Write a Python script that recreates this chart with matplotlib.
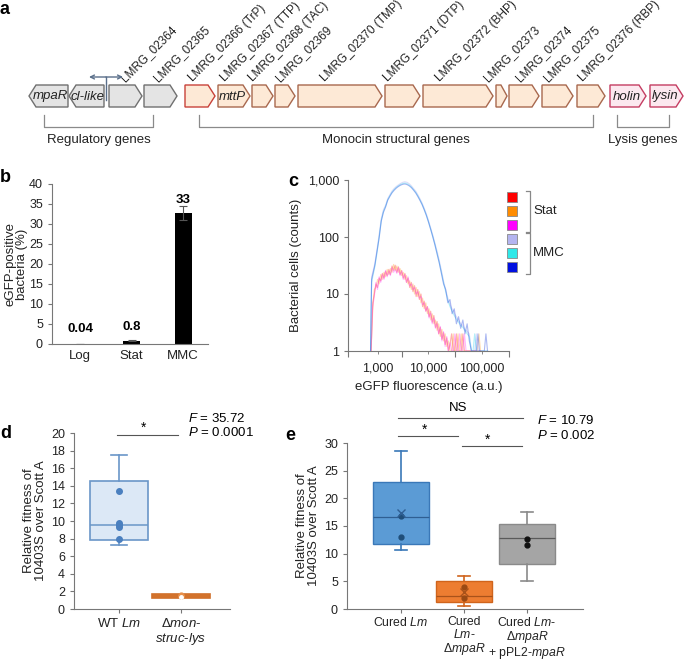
import numpy as np
import matplotlib
matplotlib.use("Agg")
import matplotlib.pyplot as plt
from matplotlib.patches import Polygon, Rectangle

plt.rcParams['font.family'] = ['Liberation Sans', 'DejaVu Sans']
plt.rcParams['mathtext.fontset'] = 'custom'
plt.rcParams['mathtext.rm'] = 'Liberation Sans'
plt.rcParams['mathtext.it'] = 'Liberation Sans:italic'
plt.rcParams['font.size'] = 9
plt.rcParams['axes.edgecolor'] = '#777777'
plt.rcParams['xtick.color'] = '#777777'
plt.rcParams['ytick.color'] = '#777777'
plt.rcParams['xtick.labelcolor'] = '#222222'
plt.rcParams['ytick.labelcolor'] = '#222222'
plt.rcParams['xtick.labelsize'] = 9
plt.rcParams['ytick.labelsize'] = 9

W, H = 685, 660

# ---------------- panel a: gene cluster
gene_start = [29, 69, 109, 144, 185, 218, 252, 275, 298, 385, 423, 496, 509, 542, 577, 610, 650]
gene_end = [68, 104, 142, 177, 215, 250, 273, 295, 382, 420, 493, 507, 539, 573, 605, 646, 683]
gene_strand = [-1, -1, 1, 1, 1, 1, 1, 1, 1, 1, 1, 1, 1, 1, 1, 1, 1]
gene_group = ['reg', 'reg', 'reg', 'reg', 'first', 'str', 'str', 'str', 'str', 'str',
              'str', 'str', 'str', 'str', 'str', 'lys', 'lys']
gene_inner = ['mpaR', 'cl-like', '', '', '', 'mttP', '', '', '', '', '', '', '', '', '', 'holin', 'lysin']
gene_label = ['', '', 'LMRG_02364', 'LMRG_02365', 'LMRG_02366 (TrP)', 'LMRG_02367 (TTP)',
              'LMRG_02368 (TAC)', 'LMRG_02369', 'LMRG_02370 (TMP)', 'LMRG_02371 (DTP)',
              'LMRG_02372 (BHP)', 'LMRG_02373', 'LMRG_02374', 'LMRG_02375', 'LMRG_02376 (RBP)', '', '']
group_names = ['Regulatory genes', 'Monocin structural genes', 'Lysis genes']

# ---------------- panel b
conditions = ['Log', 'Stat', 'MMC']
egfp_pct = [0.04, 0.8, 32.7]
egfp_err = [0.02, 0.12, 1.7]
egfp_text = ['0.04', '0.8', '33']

# ---------------- panel c: flow histograms (log10 fluorescence, counts)
stat_logx = [2.93, 2.96, 2.99, 3.02, 3.05, 3.08, 3.11, 3.14, 3.17, 3.20, 3.23, 3.26, 3.29,
             3.32, 3.35, 3.38, 3.41, 3.44, 3.47, 3.50, 3.53, 3.56, 3.59, 3.62, 3.65, 3.68,
             3.71, 3.74, 3.77, 3.80, 3.83, 3.86, 3.89, 3.92, 3.95, 3.98, 4.01, 4.04, 4.07,
             4.10, 4.13, 4.16, 4.19, 4.22, 4.25, 4.28, 4.31, 4.34, 4.37, 4.40,
             4.43, 4.46, 4.49, 4.52, 4.55, 4.58, 4.61, 4.64, 4.67, 4.70, 4.73, 4.76, 4.79,
             4.82, 4.85, 4.88, 4.91, 4.94, 4.97]
stat_red = [1, 7, 10, 15, 13, 19, 17, 23, 19, 25, 21, 27, 22, 31, 26, 32, 24, 30, 22, 26,
            19, 23, 16, 19, 13, 16, 11, 14, 9, 12, 8, 10, 6, 7.5, 5, 6, 4, 5, 3.2, 4.2,
            2.6, 3.3, 2, 2.6, 1.6, 2.1, 1.3, 1.7, 1, 1.3,
            2, 1, 1, 2, 1, 1, 1, 2, 1, 1, 1, 1, 1, 1, 1, 1, 1, 1, 1]
stat_orange = [1, 5, 12, 13, 18, 15, 22, 18, 24, 20, 27, 22, 28, 24, 33, 26, 31, 24, 28, 21,
               24, 18, 21, 15, 17, 12, 15, 10, 13, 9, 11, 7, 8.5, 5.5, 7, 4.5, 5.5, 3.5, 4.5, 3,
               3.5, 2.3, 3, 1.8, 2.4, 1.5, 2, 1.2, 1.5, 1,
               1, 2, 1, 1, 2, 1, 2, 1, 1, 1, 1, 1, 1, 1, 1, 1, 1, 2, 1]
stat_magenta = [1, 6, 9, 16, 12, 20, 16, 22, 18, 26, 20, 25, 21, 29, 24, 27, 23, 29, 21, 25,
                18, 22, 16, 20, 14, 15, 12, 13, 10, 11, 8.5, 9, 6.5, 7, 5, 6, 3.8, 4.6, 3, 3.8,
                2.5, 3, 2, 2.7, 1.5, 2.2, 1.2, 1.8, 1, 1.4,
                1, 1, 2, 1, 1, 2, 1, 1, 2, 1, 1, 1, 1, 1, 1, 1, 1, 1, 1]

mmc_logx = [2.92, 2.94, 2.97, 3.00, 3.04, 3.08, 3.12, 3.16, 3.20, 3.24, 3.28, 3.32, 3.36,
            3.40, 3.44, 3.48, 3.52, 3.56, 3.60, 3.64, 3.68, 3.72, 3.76, 3.80, 3.84, 3.88,
            3.92, 3.96, 4.00, 4.04, 4.08, 4.12, 4.16, 4.20, 4.24, 4.28, 4.32, 4.36, 4.40,
            4.44, 4.48, 4.52, 4.56, 4.60, 4.64, 4.68, 4.72, 4.76, 4.80,
            4.83, 4.86, 4.89, 4.92, 4.95, 4.98, 5.01, 5.04, 5.07, 5.10]
mmc_lavender = [1, 20, 26, 34, 60, 110, 210, 300, 360, 470, 550, 640, 710, 770, 820, 870, 910,
                930, 910, 860, 790, 710, 640, 555, 470, 395, 320, 255, 195, 145, 108, 78, 56,
                39, 26, 17, 12, 8.5, 6.5, 5.5, 4.6, 4, 3.5, 3, 2.8, 2.4, 2.2, 2, 1,
                1, 1, 2, 1, 1, 1, 1, 1, 1, 1]
mmc_cyan = [1, 16, 22, 30, 52, 100, 195, 280, 345, 450, 530, 610, 680, 740, 790, 835, 865,
            880, 860, 815, 755, 680, 610, 530, 450, 378, 305, 242, 185, 138, 102, 74, 52,
            36, 24, 16, 11, 7.8, 6, 5, 4.2, 3.6, 3.2, 2.8, 2.6, 2.3, 2, 1.8, 1,
            1, 2, 1, 1, 1, 1, 1, 1, 1, 1]
mmc_blue = [1, 18, 24, 32, 56, 95, 190, 270, 335, 440, 515, 595, 660, 720, 770, 810, 840,
            850, 830, 790, 735, 665, 595, 515, 440, 370, 300, 238, 182, 136, 100, 72, 50,
            35, 23, 15, 12, 7, 8, 4.5, 5.5, 3, 4, 2.5, 3.5, 2, 3, 1.5, 1,
            1, 1, 1, 2, 1, 1, 1, 1, 2, 1]
legend_groups = ['Stat', 'MMC']

# ---------------- panel d
d_strains = ['WT $\\mathit{Lm}$', 'Δ$\\mathit{mon}$-\n$\\mathit{struc}$-$\\mathit{lys}$']
d_med = [9.6, 1.5]
d_q1 = [7.8, 1.28]
d_q3 = [14.5, 1.72]
d_lo = [7.3, 1.28]
d_hi = [17.5, 1.72]
d_wt_points = [13.4, 9.8, 9.5, 9.3, 8.0]
d_mut_points = [1.55, 1.5, 1.45]
d_mut_mean = 1.4

# ---------------- panel e
e_strains = ['Cured $\\mathit{Lm}$', 'Cured\n$\\mathit{Lm}$-\nΔ$\\mathit{mpaR}$',
             'Cured $\\mathit{Lm}$-\nΔ$\\mathit{mpaR}$\n+ pPL2-$\\mathit{mpaR}$']
e_med = [16.7, 2.4, 12.8]
e_q1 = [11.7, 1.2, 8.2]
e_q3 = [22.9, 5.0, 15.4]
e_lo = [10.6, 0.6, 5.0]
e_hi = [28.6, 6.0, 17.5]
e_points = [[16.8, 13.0], [3.9, 1.9], [12.7, 11.6]]
e_means = [17.3, 3.0]

fig = plt.figure(figsize=(W / 100, H / 100), dpi=100)


def px_axes(l, t, r, b):
    return fig.add_axes([l / W, 1 - b / H, (r - l) / W, (b - t) / H])


def clean(ax):
    ax.spines['top'].set_visible(False)
    ax.spines['right'].set_visible(False)
    ax.set_facecolor('none')


# ---- b
ax_b = px_axes(52, 184, 208, 344)
xb = np.arange(len(conditions))
ax_b.bar(xb, egfp_pct, width=0.33, color='black', yerr=egfp_err, capsize=3,
         error_kw=dict(ecolor='#555555', elinewidth=0.8, capthick=0.8))
for i, t in enumerate(egfp_text):
    ax_b.text(xb[i], [2.2, 2.8, 34.6][i], t, ha='center', va='bottom',
              fontweight='bold', fontsize=9.5)
ax_b.set_xlim(-0.544, 2.485)
ax_b.set_ylim(0, 40)
ax_b.set_yticks(range(0, 41, 5))
ax_b.set_xticks(xb)
ax_b.set_xticklabels(conditions, fontsize=9.5)
ax_b.tick_params(axis='x', length=0, pad=4)
ax_b.tick_params(axis='y', length=3)
ax_b.set_ylabel('eGFP-positive\nbacteria (%)', fontsize=9.5, color='#222222',
                labelpad=1, linespacing=0.95)
clean(ax_b)

# ---- c
ax_c = px_axes(348, 180, 509, 351)
sx = 10 ** np.array(stat_logx)
mx = 10 ** np.array(mmc_logx)
for ys, col in [(stat_red, '#ff2020'), (stat_orange, '#ff9a20'), (stat_magenta, '#ff30ff')]:
    ax_c.plot(sx, ys, color=col, lw=0.8, alpha=0.35)
for ys, col in [(mmc_lavender, '#a8a8f0'), (mmc_cyan, '#40d8f0'), (mmc_blue, '#3050e0')]:
    ax_c.plot(mx, ys, color=col, lw=0.8, alpha=0.4)
ax_c.set_xscale('log')
ax_c.set_yscale('log')
ax_c.set_xlim(10 ** 2.5, 10 ** 5.5)
ax_c.set_ylim(1, 1000)
ax_c.set_yticks([1, 10, 100, 1000])
ax_c.set_yticklabels(['1', '10', '100', '1,000'])
ax_c.yaxis.set_minor_locator(matplotlib.ticker.NullLocator())
ax_c.set_xticks([10 ** 2.5, 10 ** 3.5, 10 ** 4.5, 10 ** 5.5])
ax_c.set_xticklabels([])
ax_c.set_xticks([1.15e3, 1e4, 1e5], minor=True)
ax_c.set_xticklabels(['1,000', '10,000', '100,000'], minor=True)
ax_c.tick_params(axis='x', which='major', length=4)
ax_c.tick_params(axis='x', which='minor', length=2, labelsize=9, pad=6)
ax_c.tick_params(axis='y', length=3)
ax_c.set_xlabel('eGFP fluorescence (a.u.)', fontsize=9.5, color='#222222', labelpad=5)
ax_c.set_ylabel('Bacterial cells (counts)', fontsize=9.5, color='#222222')
clean(ax_c)

# ---- d
ax_d = px_axes(74, 433, 230, 609)
stats_d = [dict(med=d_med[i], q1=d_q1[i], q3=d_q3[i], whislo=d_lo[i], whishi=d_hi[i], fliers=[])
           for i in range(2)]
bp = ax_d.bxp(stats_d, positions=[0, 1], widths=0.92, patch_artist=True, showfliers=False,
              capwidths=[0.26, 0.0])
d_face = ['#dce8f6', '#dc7a32']
d_edge = ['#6a96c8', '#d0702a']
for i in range(2):
    bp['boxes'][i].set_facecolor(d_face[i])
    bp['boxes'][i].set_edgecolor(d_edge[i])
    bp['boxes'][i].set_linewidth(1.2)
    bp['medians'][i].set_color(d_edge[i])
    bp['medians'][i].set_linewidth(1.1)
    for part in ('whiskers', 'caps'):
        for ln in bp[part][2 * i:2 * i + 2]:
            ln.set_color(d_edge[i])
            ln.set_linewidth(1.2)
ax_d.plot([0] * len(d_wt_points), d_wt_points, 'o', ms=4, color='#4a7fbf', zorder=4)
ax_d.plot([1] * len(d_mut_points), d_mut_points, 'o', ms=3.5, color='#e8904a', zorder=4)
ax_d.plot([1], [d_mut_mean], 'o', ms=2.5, color='white', zorder=5)
ax_d.set_xlim(-0.726, 1.79)
ax_d.set_ylim(0, 20)
ax_d.set_yticks(range(0, 21, 2))
ax_d.set_xticks([0, 1])
ax_d.set_xticklabels(d_strains, fontsize=9.5, linespacing=1.05)
ax_d.tick_params(axis='x', length=3, pad=3)
ax_d.tick_params(axis='y', length=3)
ax_d.set_ylabel('Relative fitness of\n10403S over Scott A', fontsize=9.5, color='#222222',
                labelpad=3, linespacing=0.95)
ax_d.plot([-0.03, 0.95], [19.8, 19.8], color='#555555', lw=0.8, clip_on=False)
ax_d.text(0.40, 19.75, '*', ha='center', va='bottom', fontsize=10)
ax_d.text(1.113, 21.7, '$\\mathit{F}$ = 35.72', ha='left', va='center', fontsize=9.5)
ax_d.text(1.113, 20.1, '$\\mathit{P}$ = 0.0001', ha='left', va='center', fontsize=9.5)
clean(ax_d)

# ---- e
ax_e = px_axes(347, 443, 583, 609)
stats_e = [dict(med=e_med[i], q1=e_q1[i], q3=e_q3[i], whislo=e_lo[i], whishi=e_hi[i], fliers=[])
           for i in range(3)]
bpe = ax_e.bxp(stats_e, positions=[0, 1, 2], widths=0.89, patch_artist=True, showfliers=False,
               capwidths=0.2)
e_face = ['#5b9bd5', '#ed7d31', '#a5a5a5']
e_edge = ['#3a78b8', '#d0641c', '#8a8a8a']
e_medc = ['#2f5f93', '#a9521a', '#5a5a5a']
e_pt = ['#1f4e79', '#9a4a14', '#111111']
for i in range(3):
    bpe['boxes'][i].set_facecolor(e_face[i])
    bpe['boxes'][i].set_edgecolor(e_edge[i])
    bpe['boxes'][i].set_linewidth(1.0)
    bpe['medians'][i].set_color(e_medc[i])
    bpe['medians'][i].set_linewidth(0.9)
    for part in ('whiskers', 'caps'):
        for ln in bpe[part][2 * i:2 * i + 2]:
            ln.set_color(e_edge[i])
            ln.set_linewidth(1.2)
    ax_e.plot([i] * len(e_points[i]), e_points[i], 'o', ms=3.5, color=e_pt[i], zorder=4)
for i, m in enumerate(e_means):
    ax_e.plot([i], [m], 'x', ms=6, mew=1.0, color=e_medc[i], zorder=4)
ax_e.set_xlim(-0.857, 2.89)
ax_e.set_ylim(0, 30)
ax_e.set_yticks(range(0, 31, 5))
ax_e.set_xticks([0, 1, 2])
ax_e.set_xticklabels(e_strains, fontsize=8.8, linespacing=0.98)
ax_e.tick_params(axis='x', length=3, pad=2)
ax_e.tick_params(axis='y', length=3)
ax_e.set_ylabel('Relative fitness of\n10403S over Scott A', fontsize=9.5, color='#222222',
                labelpad=3, linespacing=0.95)
ax_e.plot([-0.05, 1.94], [34.5, 34.5], color='#555555', lw=0.8, clip_on=False)
ax_e.text(0.9, 35.2, 'NS', ha='center', va='bottom', fontsize=9.5)
ax_e.plot([-0.05, 0.905], [31.3, 31.3], color='#555555', lw=0.8, clip_on=False)
ax_e.text(0.38, 31.2, '*', ha='center', va='bottom', fontsize=10)
ax_e.plot([0.97, 1.92], [29.5, 29.5], color='#555555', lw=0.8, clip_on=False)
ax_e.text(1.38, 29.4, '*', ha='center', va='bottom', fontsize=10)
ax_e.text(2.16, 34.0, '$\\mathit{F}$ = 10.79', ha='left', va='center', fontsize=9.5)
ax_e.text(2.16, 31.3, '$\\mathit{P}$ = 0.002', ha='left', va='center', fontsize=9.5)
clean(ax_e)

# ---- overlay (pixel coordinates) for gene map, legend, panel letters
ov = fig.add_axes([0, 0, 1, 1])
ov.set_xlim(0, W)
ov.set_ylim(H, 0)
ov.axis('off')

styles = {'reg': ('#e4e4e4', '#707070'), 'first': ('#fde9d6', '#c8423a'),
          'str': ('#fde9d6', '#a8684e'), 'lys': ('#fce8ef', '#c43d62')}
label_x = [0, 0, 125, 158, 193, 225, 253, 280, 325, 388, 440, 488, 520, 548, 583, 0, 0]
yc, hh = 96, 11
for i in range(len(gene_start)):
    x0, x1 = gene_start[i], gene_end[i]
    head = min(7, 0.55 * (x1 - x0))
    if gene_strand[i] > 0:
        pts = [(x0, yc - hh), (x1 - head, yc - hh), (x1, yc), (x1 - head, yc + hh), (x0, yc + hh)]
    else:
        pts = [(x1, yc - hh), (x0 + head, yc - hh), (x0, yc), (x0 + head, yc + hh), (x1, yc + hh)]
    fc, ec = styles[gene_group[i]]
    ov.add_patch(Polygon(pts, closed=True, facecolor=fc, edgecolor=ec, lw=1.0))
    if gene_inner[i]:
        cx = (x0 + x1) / 2 - 1.5 * gene_strand[i]
        ov.text(cx, yc + 0.5, gene_inner[i], ha='center', va='center', style='italic',
                fontsize=9.5, color='#222222')
    if gene_label[i]:
        ov.text(label_x[i], 82, gene_label[i], rotation=45, rotation_mode='anchor',
                ha='left', va='baseline', fontsize=8.5, color='#222222')

# promoter
pcol = '#5a6f8a'
ov.plot([106, 106], [77, 100], color=pcol, lw=1.0)
for tip in (89, 123):
    ov.annotate('', xy=(tip, 77), xytext=(106, 77),
                arrowprops=dict(arrowstyle='->', color=pcol, lw=1.0, mutation_scale=7,
                                shrinkA=0, shrinkB=0))

# brackets
for name, xa, xz in zip(group_names, [44, 199, 617], [153, 593, 669]):
    ov.plot([xa, xa, xz, xz], [115, 127, 127, 115], color='#8a8a8a', lw=0.9)
    ov.text((xa + xz) / 2, 140, name, ha='center', va='center', fontsize=9.5, color='#222222')

# legend for c
leg_colors = ['#ff0000', '#ff8c00', '#ff00ff', '#b4b4f0', '#30e8e8', '#0010e0']
for j, col in enumerate(leg_colors):
    ov.add_patch(Rectangle((507, 192 + 14 * j), 10, 10, facecolor=col, edgecolor='#888888', lw=0.6))
for name, ya, yz in zip(legend_groups, [191, 233], [232, 274]):
    ov.plot([526, 530, 530, 526], [ya, ya, yz, yz], color='#888888', lw=0.9)
    ov.text(533, (ya + yz) / 2, name, ha='left', va='center', fontsize=9.5, color='#222222')

for letter, lx, ly in [('a', 5, 10), ('b', 5, 177), ('c', 293, 181), ('d', 6, 433), ('e', 290, 435)]:
    ov.text(lx, ly, letter, ha='center', va='center', fontsize=13, fontweight='bold')

fig.savefig('out.png', dpi=100)
